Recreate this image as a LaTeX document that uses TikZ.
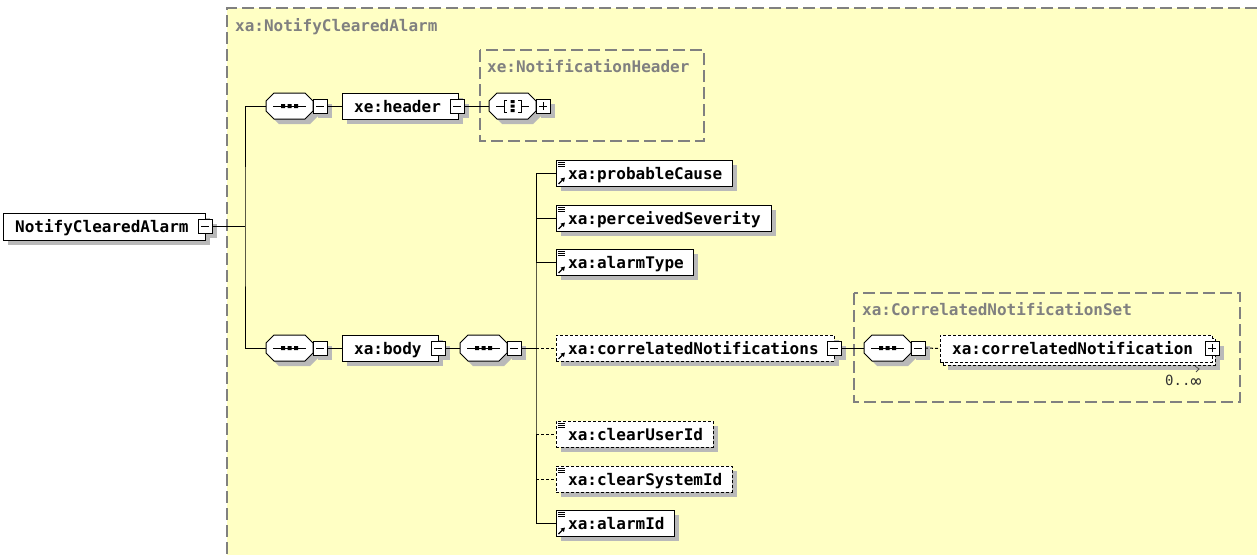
\documentclass[tikz,border=0pt]{standalone}
\usepackage{fontspec}
\usetikzlibrary{arrows.meta}
\newfontfamily\dmono{DejaVu Sans Mono}
\definecolor{yell}{RGB}{255,255,196}
\definecolor{shadowc}{RGB}{185,185,185}
\definecolor{grpgray}{RGB}{128,128,128}
\pgfdeclarelayer{bg}
\pgfdeclarelayer{shadow}
\pgfsetlayers{bg,shadow,main}
\tikzset{
  conn/.style={line width=1pt, black},
  optconn/.style={conn, dash pattern=on 3pt off 2pt},
  ebox/.style={draw=black, fill=white, line width=1pt, anchor=north west, inner sep=0pt, outer sep=0pt},
  optbox/.style={ebox, dash pattern=on 3pt off 2pt},
  ghost/.style={anchor=north west, inner sep=0pt, outer sep=0pt},
  lbl/.style={font=\dmono\bfseries\fontsize{16}{16}\selectfont, anchor=base west, inner sep=0pt},
  glbl/.style={lbl, text=grpgray},
  grpbox/.style={draw=grpgray, line width=1.2pt, dash pattern=on 12pt off 5pt},
}
% box with shadow: name, x, y, w, h, style
\newcommand{\shbox}[6]{%
  \begin{pgfonlayer}{shadow}\fill[shadowc] (#2+5,#3+5) rectangle ++(#4,#5);\end{pgfonlayer}
  \node[#6, minimum width=#4pt, minimum height=#5pt] (#1) at (#2,#3) {};}
% minus box: name, x, y
\newcommand{\mnbox}[3]{%
  \shbox{#1}{#2}{#3}{14}{14}{ebox}
  \draw[line width=1pt] ([xshift=3pt]#1.west) -- ([xshift=-3pt]#1.east);}
\newcommand{\plbox}[3]{%
  \shbox{#1}{#2}{#3}{14}{14}{ebox}
  \draw[line width=1pt] ([xshift=3pt]#1.west) -- ([xshift=-3pt]#1.east)
    ([yshift=3pt]#1.south) -- ([yshift=-3pt]#1.north);}
% octagon compositor: name, x, y
\newcommand{\octa}[3]{%
  \begin{pgfonlayer}{shadow}
  \fill[shadowc, shift={(#2+5,#3+5)}] (8,0) -- (39,0) -- (47,8) -- (47,18) -- (39,26) -- (8,26) -- (0,18) -- (0,8) -- cycle;
  \end{pgfonlayer}
  \filldraw[fill=white, draw=black, line width=1pt, shift={(#2,#3)}] (8,0) -- (39,0) -- (47,8) -- (47,18) -- (39,26) -- (8,26) -- (0,18) -- (0,8) -- cycle;
  \node[ghost, minimum width=47pt, minimum height=26pt] (#1) at (#2,#3) {};}
\newcommand{\seqsym}[2]{%
  \begin{scope}[shift={(#1,#2)}]
  \draw[line width=1pt] (7,13) -- (40,13);
  \fill (15,11) rectangle (19,15) (21.5,11) rectangle (25.5,15) (28,11) rectangle (32,15);
  \end{scope}}
\newcommand{\allsym}[2]{%
  \begin{scope}[shift={(#1,#2)}]
  \draw[line width=1pt] (7,13) -- (15,13) (32,13) -- (40,13);
  \draw[line width=1pt] (18,7) -- (15,7) -- (15,19) -- (18,19) (29,7) -- (32,7) -- (32,19) -- (29,19);
  \fill (21.5,7) rectangle (25.5,10) (21.5,11.5) rectangle (25.5,14.5) (21.5,16) rectangle (25.5,19);
  \end{scope}}
\newcommand{\doclines}[2]{%
  \draw[line width=0.8pt] (#1+2,#2+2) -- ++(7,0) (#1+2,#2+4) -- ++(7,0) (#1+2,#2+6) -- ++(7,0);}
\newcommand{\refarrow}[2]{%
  \draw[line width=1.3pt, -{Triangle[length=4pt,width=4.5pt]}] (#1+2.5,#2+24) -- (#1+9,#2+17.5);}
\begin{document}
\begin{tikzpicture}[x=1pt, y=-1pt]
\useasboundingbox (0,0) rectangle (1257,555);
\begin{pgfonlayer}{bg}
\fill[white] (0,0) rectangle (1257,555);
\fill[yell] (227,8) rectangle (1257,555);
\end{pgfonlayer}
\draw[grpbox] (1257,8) -- (227,8) -- (227,555);
\node[glbl] (lblmain) at (235,31) {xa:NotifyClearedAlarm};

% root
\shbox{root}{3}{213}{202}{27}{ebox}
\node[lbl] (roott) at (15,232) {NotifyClearedAlarm};
\mnbox{rootm}{198}{219}

% header branch
\octa{s1}{266}{93}\seqsym{266}{93}
\mnbox{s1m}{313}{99}
\shbox{hdr}{342}{93}{116}{26}{ebox}
\node[lbl] (hdrt) at (354,112) {xe:header};
\mnbox{hdrm}{450}{99}
\draw[grpbox] (480,50) rectangle (704,141);
\node[glbl] (lblhdr) at (487,72) {xe:NotificationHeader};
\octa{a1}{489}{93}\allsym{489}{93}
\plbox{a1p}{536}{99}

% body branch
\octa{s2}{266}{335}\seqsym{266}{335}
\mnbox{s2m}{313}{341}
\shbox{body}{342}{335}{96}{26}{ebox}
\node[lbl] (bodyt) at (354,354) {xa:body};
\mnbox{bodym}{431}{341}
\octa{s3}{460}{335}\seqsym{460}{335}
\mnbox{s3m}{507}{341}

% children
\shbox{pc}{556}{160}{176}{26}{ebox}
\doclines{556}{160}\refarrow{556}{160}
\node[lbl] (pct) at (568,179) {xa:probableCause};

\shbox{ps}{556}{205}{215}{26}{ebox}
\doclines{556}{205}\refarrow{556}{205}
\node[lbl] (pst) at (568,224) {xa:perceivedSeverity};

\shbox{at}{556}{249}{137}{26}{ebox}
\doclines{556}{249}\refarrow{556}{249}
\node[lbl] (att) at (568,268) {xa:alarmType};

\shbox{cn}{556}{335}{278}{26}{optbox}
\refarrow{556}{335}
\node[lbl] (cnt) at (568,354) {xa:correlatedNotifications};
\mnbox{cnm}{827}{341}

\shbox{cu}{556}{421}{157}{26}{optbox}
\doclines{556}{421}
\node[lbl] (cut) at (568,440) {xa:clearUserId};

\shbox{cs}{556}{466}{176}{26}{optbox}
\doclines{556}{466}
\node[lbl] (cst) at (568,485) {xa:clearSystemId};

\shbox{ai}{556}{510}{118}{26}{ebox}
\doclines{556}{510}\refarrow{556}{510}
\node[lbl] (ait) at (568,529) {xa:alarmId};

% correlated notification set
\draw[grpbox] (854,293) rectangle (1240,402);
\node[glbl] (lblset) at (862,315) {xa:CorrelatedNotificationSet};
\octa{s4}{864}{335}\seqsym{864}{335}
\mnbox{s4m}{911}{341}
\shbox{cnb}{943}{338}{272}{27}{optbox}
\node[optbox, minimum width=272pt, minimum height=27pt] (cnone) at (940,335) {};
\node[lbl] (cnonet) at (952,354) {xa:correlatedNotification};
\plbox{cnonep}{1205}{341}
\draw[line width=0.8pt, black!70] (1195,366) -- (1199,369) -- (1196,372);
\node[anchor=base west, inner sep=0pt, font=\dmono\fontsize{14}{14}\selectfont, text=black!80] (occ) at (1165,385) {0..\raisebox{-2.5pt}{\fontsize{18}{18}\selectfont ∞}};

% connectors
\coordinate (j1) at (245,226);
\coordinate (j2) at (536,348);
\draw[conn] (rootm.east) -- (j1);
\draw[conn] (s1.west) -| (j1) |- (s2.west);
\draw[conn] (s1m.east) -- (hdr.west);
\draw[conn] (hdrm.east) -- (a1.west);
\draw[conn] (s2m.east) -- (body.west);
\draw[conn] (bodym.east) -- (s3.west);
\draw[conn] (s3m.east) -- (j2);
\draw[conn] (pc.west) -| (j2) |- (ai.west);
\draw[conn] (j2 |- ps.west) -- (ps.west);
\draw[conn] (j2 |- at.west) -- (at.west);
\draw[optconn] (j2) -- (cn.west);
\draw[optconn] (j2 |- cu.west) -- (cu.west);
\draw[optconn] (j2 |- cs.west) -- (cs.west);
\draw[conn] (cnm.east) -- (s4.west);
\draw[optconn] (s4m.east) -- (cnone.west);
\end{tikzpicture}
\end{document}
